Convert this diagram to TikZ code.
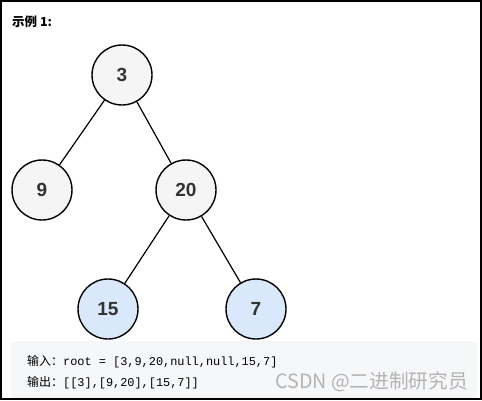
\documentclass[tikz,border=0pt]{standalone}
\usepackage{fontspec}
\setmainfont{Liberation Sans}
\setmonofont{Liberation Mono}
\newfontfamily\cjk{Noto Sans CJK SC}
\usepackage{xcolor}
\usetikzlibrary{positioning}

\definecolor{nodegray}{HTML}{F5F5F5}
\definecolor{nodeblue}{HTML}{DAE8FC}
\definecolor{codebg}{HTML}{F6F7F9}
\definecolor{markgray}{HTML}{B4B4B4}

\begin{document}
\begin{tikzpicture}[x=1pt, y=-1pt,
    tnode/.style={circle, draw, line width=1.4pt, fill=nodegray, minimum size=60pt, inner sep=0pt, text=black!80,
        font=\fontsize{19}{19}\selectfont\bfseries},
    leaf/.style={tnode, fill=nodeblue},
    edge/.style={draw, line width=1.2pt},
    code/.style={anchor=west, inner sep=0pt, font=\fontsize{11.9}{12}\selectfont\ttfamily}]

    \useasboundingbox (0,0) rectangle (482,400);
    \fill [codebg, rounded corners=3pt] (11,341) rectangle (477,399);

    \node [anchor=west, inner sep=0pt, font=\cjk\bfseries\fontsize{12.5}{13}\selectfont] (title) at (12,22) {示例 1:};

    % the tree
    \node [tnode] (n3) at (122,75) {3};
    \node [tnode] (n9) at (42,190) {9};
    \node [tnode] (n20) at (186,190) {20};
    \node [leaf] (n15) at (108,309) {15};
    \node [leaf] (n7) at (256,309) {7};

    \path [edge] (n3) -- (n9);
    \path [edge] (n3) -- (n20);
    \path [edge] (n20) -- (n15);
    \path [edge] (n20) -- (n7);

    % input / output
    \node [code] (input) at (27,362) {{\cjk\fontsize{12}{12}\selectfont 输入：}root = [3,9,20,null,null,15,7]};
    \node [code] (output) at (27,383) {{\cjk\fontsize{12}{12}\selectfont 输出：}[[3],[9,20],[15,7]]};
    \node [anchor=west, inner sep=0pt, text=markgray, font=\cjk\fontsize{19.7}{20}\selectfont] (mark) at (275,382) {CSDN @二进制研究员};

    \draw [line width=2pt] (1,1) rectangle (481,399);
\end{tikzpicture}
\end{document}
